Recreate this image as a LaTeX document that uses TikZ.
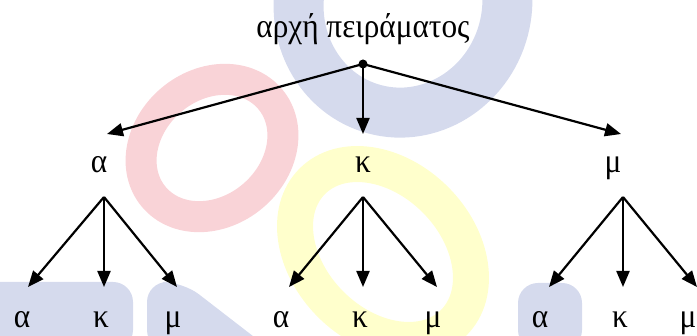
\documentclass[tikz,border=0pt]{standalone}
\usepackage{fontspec}
\setmainfont[FakeStretch=0.92]{Liberation Serif}
\usetikzlibrary{arrows.meta}
\definecolor{bgblue}{HTML}{D5DAED}
\definecolor{bgred}{HTML}{F9D3D7}
\definecolor{bgyellow}{HTML}{FFFFCC}
\tikzset{
  lbl/.style={inner sep=0pt, anchor=base, font=\fontsize{34}{40}\selectfont},
  dotnode/.style={circle, fill=black, inner sep=0pt, minimum size=9pt},
  arr/.style={line width=2.2pt, -{Triangle[length=16pt,width=13pt]}},
}
\begin{document}
\begin{tikzpicture}[x=1pt,y=-1pt]
\useasboundingbox (0,0) rectangle (697,336);
\begin{scope}
\clip (0,0) rectangle (697,336);
% background watermark shapes
\draw[bgblue, line width=50pt, rotate around={-15:(403,3)}] (403,3) ellipse [x radius=104, y radius=110];
\draw[bgred, line width=31pt, rotate around={40:(212,148)}] (212,148) ellipse [x radius=76, y radius=63];
\draw[bgyellow, line width=36pt, rotate around={-45:(383,252)}] (383,252) ellipse [x radius=100, y radius=74];
\fill[bgblue, rounded corners=20pt] (-20,350) -- (-20,282) -- (133,282) -- (133,350) -- cycle;
\fill[bgblue, rounded corners=20pt] (147,350) -- (147,282) -- (183,282) -- (271,350) -- cycle;
\fill[bgblue, rounded corners=20pt] (518,350) -- (518,283) -- (582,283) -- (582,350) -- cycle;
\end{scope}
% title and root
\node[lbl] (root) at (363,38) {αρχή πειράματος};
\node[dotnode] (d) at (363,64) {};
% level 1
\node[lbl] (a) at (99,173) {α};
\node[lbl] (k) at (363,173) {κ};
\node[lbl] (m) at (613,173) {μ};
\coordinate (ta) at (107,134);
\coordinate (tk) at (363,134);
\coordinate (tm) at (621,134);
\draw[arr] (d.center) -- (ta);
\draw[arr] (d.center) -- (tk);
\draw[arr] (d.center) -- (tm);
% level 2 origins
\coordinate (oa) at (104,197);
\coordinate (ok) at (363,197);
\coordinate (om) at (623,197);
% level 2 labels
\node[lbl] (aa) at (22,328) {α};
\node[lbl] (ak) at (101,328) {κ};
\node[lbl] (am) at (173,328) {μ};
\node[lbl] (ka) at (281,328) {α};
\node[lbl] (kk) at (360,328) {κ};
\node[lbl] (km) at (433,328) {μ};
\node[lbl] (ma) at (540,328) {α};
\node[lbl] (mk) at (620,328) {κ};
\node[lbl] (mm) at (688,328) {μ};
% level 2 tips
\coordinate (taa) at (28,287);
\coordinate (tak) at (104,287);
\coordinate (tam) at (177,287);
\coordinate (tka) at (289,287);
\coordinate (tkk) at (363,287);
\coordinate (tkm) at (437,287);
\coordinate (tma) at (549,287);
\coordinate (tmk) at (623,287);
\coordinate (tmm) at (697,287);
\draw[arr] (oa) -- (taa);
\draw[arr] (oa) -- (tak);
\draw[arr] (oa) -- (tam);
\draw[arr] (ok) -- (tka);
\draw[arr] (ok) -- (tkk);
\draw[arr] (ok) -- (tkm);
\draw[arr] (om) -- (tma);
\draw[arr] (om) -- (tmk);
\draw[arr] (om) -- (tmm);
\end{tikzpicture}
\end{document}
